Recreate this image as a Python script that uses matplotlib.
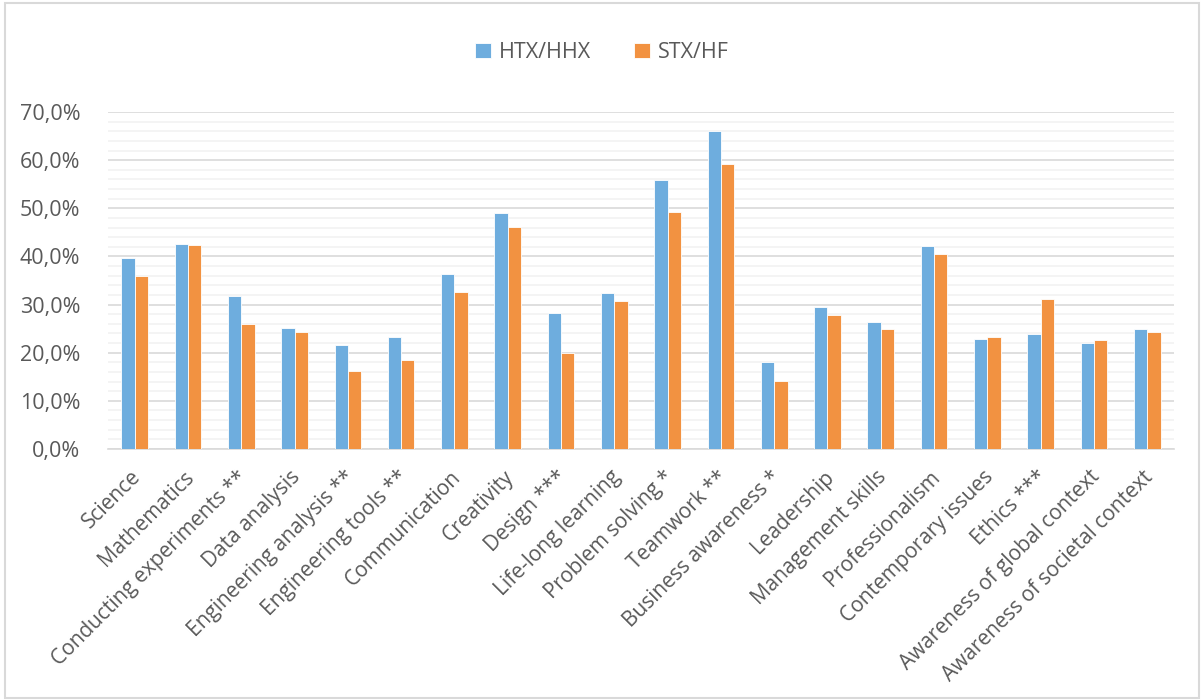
import matplotlib
matplotlib.use("Agg")
import matplotlib.pyplot as plt
from matplotlib.ticker import MultipleLocator, FuncFormatter
from matplotlib.patches import Rectangle
import matplotlib.transforms as mtransforms
import numpy as np

categories = ["Science", "Mathematics", "Conducting experiments **", "Data analysis",
              "Engineering analysis **", "Engineering tools **", "Communication", "Creativity",
              "Design ***", "Life-long learning", "Problem solving *", "Teamwork **",
              "Business awareness *", "Leadership", "Management skills", "Professionalism",
              "Contemporary issues", "Ethics ***", "Awareness of global context",
              "Awareness of societal context"]
htx_hhx = [39.6, 42.5, 31.7, 25.1, 21.6, 23.2, 36.4, 49.0, 28.3, 32.4, 55.8, 66.1,
           18.1, 29.5, 26.4, 42.2, 22.8, 23.9, 22.0, 24.9]
stx_hf = [35.9, 42.4, 25.9, 24.2, 16.3, 18.5, 32.7, 46.1, 19.9, 30.7, 49.3, 59.3,
          14.1, 27.8, 24.9, 40.4, 23.3, 31.2, 22.6, 24.2]
series_names = ["HTX/HHX", "STX/HF"]

plt.rcParams['font.family'] = ['Open Sans', 'DejaVu Sans']
text_color = '#595959'

fig = plt.figure(figsize=(12.04, 7.0), dpi=100)
fig.patches.append(Rectangle((0.004, 0.003), 0.992, 0.993, transform=fig.transFigure,
                             fill=False, edgecolor='#D9D9D9', linewidth=1.5))
ax = fig.add_axes([0.0897, 0.3586, 0.8853, 0.4814])

x = np.arange(len(categories))
w = 0.25
ax.bar(x - w / 2, htx_hhx, width=w, color='#6EADDE', edgecolor='white', linewidth=0.6,
       label=series_names[0], zorder=3)
ax.bar(x + w / 2, stx_hf, width=w, color='#F29241', edgecolor='white', linewidth=0.6,
       label=series_names[1], zorder=3)

ax.set_xlim(-0.5, len(categories) - 0.5)
ax.set_ylim(0, 70)
ax.yaxis.set_major_locator(MultipleLocator(10))
ax.yaxis.set_minor_locator(MultipleLocator(2))
ax.yaxis.set_major_formatter(FuncFormatter(lambda v, p: f"{v:.1f}%".replace('.', ',')))
ax.grid(axis='y', which='major', color='#D9D9D9', linewidth=1.2, zorder=0)
ax.grid(axis='y', which='minor', color='#F2F2F2', linewidth=1.2, zorder=0)
ax.set_axisbelow(True)
for s in ['top', 'right', 'left']:
    ax.spines[s].set_visible(False)
ax.spines['bottom'].set_color('#D9D9D9')
ax.spines['bottom'].set_linewidth(1.2)
ax.tick_params(axis='y', which='both', length=0, labelsize=15.5, labelcolor=text_color, pad=20)
ax.tick_params(axis='x', length=0, labelsize=15, labelcolor=text_color, pad=0)

ax.set_xticks(x)
ax.set_xticklabels(categories, rotation=45, ha='right', va='center', rotation_mode='anchor')
offset = mtransforms.ScaledTranslation(0.03, -0.25, fig.dpi_scale_trans)
for lbl in ax.get_xticklabels():
    lbl.set_transform(lbl.get_transform() + offset)

leg = fig.legend(loc='center', bbox_to_anchor=(0.5, 0.925), ncol=2, frameon=False,
                 fontsize=15.5, handlelength=0.75, handleheight=0.75, columnspacing=2.0,
                 handletextpad=0.35)
for t in leg.get_texts():
    t.set_color(text_color)

fig.savefig("out.png", dpi=100)
